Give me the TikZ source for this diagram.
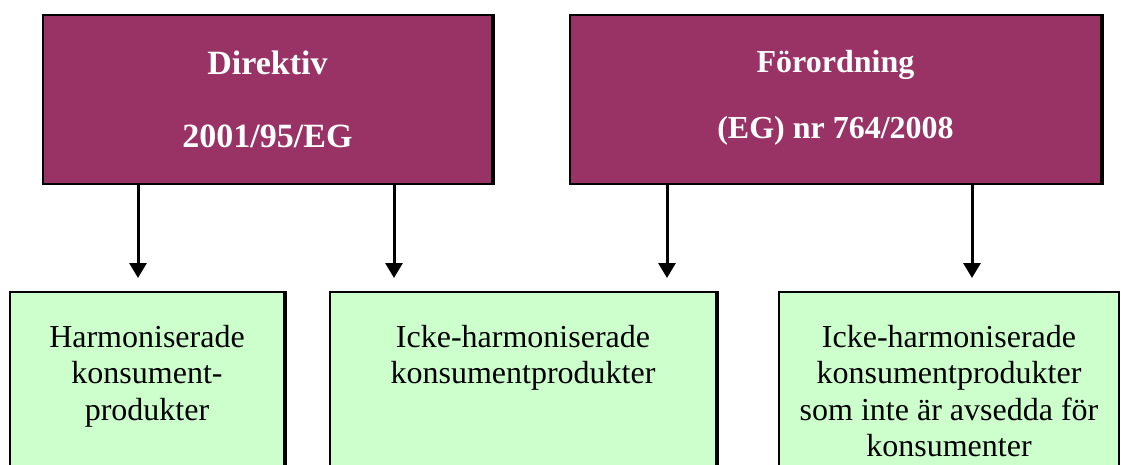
\documentclass[tikz,border=0pt]{standalone}
\usepackage{fontspec}
\setmainfont{Liberation Serif}
\usetikzlibrary{arrows.meta}
\definecolor{plum}{HTML}{993366}
\definecolor{mint}{HTML}{CCFFCC}
\begin{document}
\begin{tikzpicture}[x=1pt,y=-1pt,
  topbox/.style={draw=black, line width=2pt, fill=plum, minimum height=169pt, inner sep=0pt, anchor=north west},
  botbox/.style={draw=black, line width=2pt, fill=mint, minimum height=200pt, inner sep=0pt, anchor=north west},
  toptext/.style={text=white, align=center, inner sep=0pt, anchor=north},
  bottext/.style={text=black, align=center, inner sep=0pt, anchor=north, font={\fontsize{32}{36.5}\selectfont}},
  edge/.style={line width=2pt},
  arr/.style={line width=3pt, -{Triangle[length=15pt,width=17pt]}, shorten >=13pt}]
\useasboundingbox (0,0) rectangle (1121,464);
\clip (0,0) rectangle (1121,464);
% top boxes
\node[topbox, minimum width=449pt] (dir) at (42,14) {};
\node[topbox, minimum width=531pt] (for) at (569,14) {};
\draw[edge] ([xshift=1pt]dir.north east) -- ([xshift=1pt]dir.south east);
\draw[edge] ([xshift=1pt]for.north east) -- ([xshift=1pt]for.south east);
\node[toptext, font={\bfseries\fontsize{34}{73}\selectfont}] (dirt) at (dir.north |- 0,51) {Direktiv\\2001/95/EG};
\node[toptext, font={\bfseries\fontsize{32}{66}\selectfont}] (fort) at (for.north |- 0,50) {Förordning\\(EG) nr 764/2008};
% bottom boxes
\node[botbox, minimum width=274pt] (ha) at (9,291) {};
\node[botbox, minimum width=386pt] (ih) at (329,291) {};
\node[botbox, minimum width=340pt] (ik) at (778,291) {};
\draw[edge] ([xshift=1pt]ha.north east) -- ([xshift=1pt]ha.south east);
\draw[edge] ([xshift=1pt]ih.north east) -- ([xshift=1pt]ih.south east);
\node[bottext] (hat) at (ha.north |- 0,325) {Harmoniserade\\konsument-\\produkter};
\node[bottext] (iht) at (ih.north |- 0,325) {Icke-harmoniserade\\konsumentprodukter};
\node[bottext] (ikt) at (ik.north |- 0,325) {Icke-harmoniserade\\konsumentprodukter\\som inte är avsedda för\\konsumenter};
% arrows
\coordinate (c1) at (138,0);
\coordinate (c2) at (394,0);
\coordinate (c3) at (667,0);
\coordinate (c4) at (972,0);
\draw[arr] (dir.south -| c1) -- (ha.north -| c1);
\draw[arr] (dir.south -| c2) -- (ih.north -| c2);
\draw[arr] (for.south -| c3) -- (ih.north -| c3);
\draw[arr] (for.south -| c4) -- (ik.north -| c4);
\end{tikzpicture}
\end{document}
